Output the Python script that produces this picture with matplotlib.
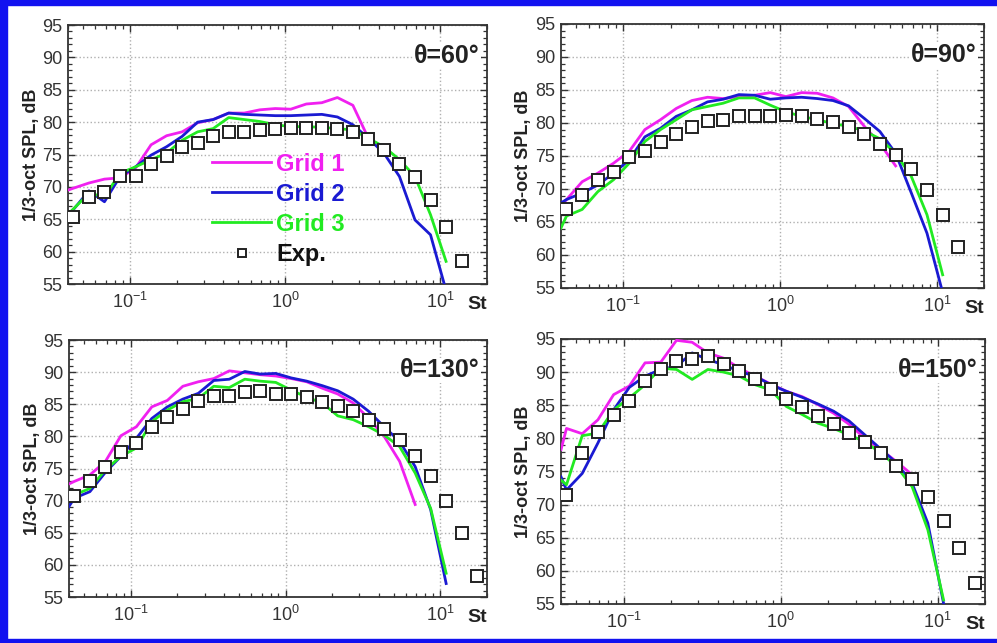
import matplotlib
matplotlib.use("Agg")
import matplotlib.pyplot as plt
from matplotlib.patches import Rectangle
from matplotlib.ticker import LogLocator, MultipleLocator, NullFormatter

plt.rcParams["font.family"] = ["Liberation Sans", "DejaVu Sans"]
plt.rcParams["mathtext.default"] = "regular"

# Strouhal numbers of the 1/3-octave bands
st_bands = [0.04335, 0.05458, 0.06871, 0.08650, 0.1089, 0.1371, 0.1726, 0.2173,
            0.2735, 0.3443, 0.4335, 0.5458, 0.6871, 0.8650, 1.089, 1.371, 1.726,
            2.173, 2.735, 3.443, 4.335, 5.458, 6.871, 8.650, 10.89, 13.71, 17.26]
# simulation spectra start at the low-frequency edge St = 0.04
st_sim = [0.04] + st_bands

angles = ["60", "90", "130", "150"]

grid1 = {
    "60": [69.5, 69.8, 70.6, 71.2, 71.4, 72.9, 76.5, 77.9, 78.5, 79.9, 80.4, 81.4,
           81.4, 81.9, 82.1, 82.0, 82.8, 83.0, 83.8, 82.6, 77.5, 75.5],
    "90": [67.4, 68.4, 71.1, 72.4, 73.9, 75.7, 79.0, 80.5, 82.2, 83.4, 83.9, 83.7,
           84.0, 84.2, 84.6, 84.0, 84.6, 84.5, 83.8, 82.5, 79.5, 76.9, 73.5],
    "130": [72.6, 73.0, 74.0, 76.1, 80.1, 81.5, 84.6, 85.6, 87.8, 88.5, 89.0, 90.2,
            89.9, 89.6, 89.4, 89.0, 88.5, 87.5, 86.6, 85.2, 82.8, 80.0, 76.1, 69.4],
    "150": [78.3, 81.5, 80.7, 82.8, 86.6, 87.9, 91.4, 91.5, 94.8, 94.5, 92.9, 92.1,
            90.6, 89.4, 88.2, 87.1, 86.3, 85.1, 83.8, 82.1, 80.0, 78.3, 76.5, 74.5],
}
grid2 = {
    "60": [65.3, 66.5, 69.4, 67.7, 71.6, 73.1, 74.9, 76.2, 77.8, 80.0, 80.4, 81.4,
           81.2, 81.1, 81.0, 81.0, 81.1, 81.2, 80.8, 79.6, 77.5, 75.2, 71.6, 64.9,
           62.6, 54.0],
    "90": [67.9, 68.4, 69.4, 70.6, 72.4, 74.4, 77.9, 79.2, 81.0, 82.0, 83.2, 83.6,
           84.3, 84.2, 83.6, 83.8, 83.9, 83.7, 83.4, 82.6, 80.7, 78.7, 75.4, 69.4,
           63.3, 54.3],
    "130": [69.1, 70.4, 71.4, 74.4, 76.9, 79.7, 82.8, 84.6, 85.8, 86.7, 88.7, 88.9,
            90.1, 89.7, 89.8, 89.1, 88.6, 87.9, 87.1, 85.8, 83.9, 81.5, 79.2, 75.3,
            68.6, 57.1],
    "150": [74.2, 72.2, 74.7, 79.3, 84.3, 87.7, 89.4, 90.4, 90.9, 92.9, 91.9, 91.1,
            90.1, 89.4, 88.1, 87.1, 86.2, 85.2, 84.1, 82.6, 80.5, 78.4, 76.3, 73.2,
            67.2, 55.1],
}
grid3 = {
    "60": [65.8, 66.6, 69.0, 68.5, 72.1, 73.1, 74.2, 75.2, 77.2, 78.5, 79.0, 80.7,
           80.4, 80.1, 79.6, 79.3, 79.3, 79.2, 79.0, 78.8, 77.5, 76.2, 74.2, 71.6,
           65.7, 58.5],
    "90": [64.1, 65.9, 66.9, 69.6, 71.4, 73.9, 77.2, 79.0, 80.5, 82.0, 82.5, 83.0,
           83.8, 83.8, 82.7, 81.7, 81.0, 80.5, 79.9, 79.5, 78.8, 77.6, 75.4, 71.9,
           66.1, 57.0],
    "130": [69.9, 70.9, 71.9, 74.8, 76.9, 78.2, 82.3, 84.1, 85.4, 85.9, 87.8, 87.6,
            88.9, 88.6, 88.4, 87.2, 86.1, 85.2, 83.2, 82.6, 81.5, 80.2, 78.4, 74.3,
            68.8, 58.7],
    "150": [73.7, 73.0, 80.4, 80.8, 84.3, 86.1, 88.1, 90.6, 90.4, 88.9, 90.4, 90.0,
            89.4, 88.1, 87.3, 84.8, 83.6, 82.3, 81.5, 80.5, 79.5, 77.8, 75.8, 72.7,
            66.2, 55.6],
}
exp_spl = {
    "60": [65.4, 68.5, 69.2, 71.7, 71.7, 73.5, 74.8, 76.1, 76.8, 77.9, 78.4, 78.4,
           78.8, 78.9, 79.15, 79.15, 79.15, 78.9, 78.4, 77.35, 75.7, 73.6, 71.5,
           67.9, 63.8, 58.6],
    "90": [67.0, 69.1, 71.4, 72.6, 74.8, 75.7, 77.05, 78.4, 79.4, 80.3, 80.5, 81.0,
           81.1, 81.0, 81.2, 81.1, 80.6, 80.1, 79.4, 78.3, 76.8, 75.2, 73.0, 69.9,
           66.1, 61.2],
    "130": [70.8, 73.1, 75.2, 77.5, 78.9, 81.4, 83.0, 84.3, 85.5, 86.3, 86.3, 86.9,
            87.1, 86.6, 86.6, 86.1, 85.4, 84.8, 84.0, 82.6, 81.2, 79.5, 77.0, 73.8,
            70.0, 65.0, 58.2],
    "150": [71.4, 77.8, 80.9, 83.6, 85.7, 88.6, 90.5, 91.7, 92.0, 92.4, 91.2, 90.1,
            89.0, 87.4, 86.0, 84.8, 83.4, 82.2, 80.8, 79.4, 77.8, 75.8, 73.9, 71.1,
            67.5, 63.4, 58.1],
}

labels = ["Grid 1", "Grid 2", "Grid 3", "Exp."]
colors = ["#f020f0", "#1a1ad2", "#22ea22"]

# axes rectangles [left, bottom, width, height] in figure fractions
boxes = {
    "60": [0.0682, 0.5583, 0.4203, 0.4028],
    "90": [0.5627, 0.5521, 0.4243, 0.4106],
    "130": [0.0692, 0.0715, 0.4193, 0.3997],
    "150": [0.5627, 0.0607, 0.4253, 0.4121],
}

fig = plt.figure(figsize=(9.97, 6.43), dpi=100)

for ang in angles:
    ax = fig.add_axes(boxes[ang])
    series = [grid1[ang], grid2[ang], grid3[ang]]
    for vals, col, lab in zip(series, colors, labels[:3]):
        ax.plot(st_sim[:len(vals)], vals, color=col, lw=2.0, label=lab,
                solid_joinstyle="round", zorder=3)
    ev = exp_spl[ang]
    ax.plot(st_bands[:len(ev)], ev, ls="none", marker="s", ms=8.0,
            mfc="white", mec="#222222", mew=1.4, color="black",
            label=labels[3], zorder=4)

    ax.set_xscale("log")
    ax.set_xlim(0.04, 20)
    ax.set_ylim(55, 95)
    ax.yaxis.set_major_locator(MultipleLocator(5))
    ax.yaxis.set_minor_locator(MultipleLocator(1))
    ax.xaxis.set_major_locator(LogLocator(base=10, numticks=10))
    ax.xaxis.set_minor_locator(LogLocator(base=10, subs=range(2, 10), numticks=20))
    ax.xaxis.set_minor_formatter(NullFormatter())
    ax.grid(True, which="major", color="#b0b0b0", ls=":", lw=1.0)
    ax.tick_params(which="both", direction="in", top=True, right=True,
                   color="#333333")
    ax.tick_params(which="major", length=5, width=1.0, labelsize=13,
                   labelcolor="#333333")
    ax.tick_params(which="minor", length=3, width=0.9)
    ax.tick_params(axis="x", which="major", pad=6)
    ax.tick_params(axis="y", which="major", pad=4)
    for sp in ax.spines.values():
        sp.set_color("#333333")
        sp.set_linewidth(1.3)

    ax.set_ylabel("1/3-oct SPL, dB", fontsize=13, fontweight="bold",
                  color="#222222")
    ax.yaxis.set_label_coords(-0.068, 0.5)
    ax.annotate("St", xy=(1.0, 0.0), xycoords="axes fraction",
                xytext=(0, -18), textcoords="offset points",
                ha="right", va="baseline", fontsize=14, fontweight="bold",
                color="#222222")
    ax.text(0.983, 0.855, "\u03b8=" + ang + "\u00b0", transform=ax.transAxes,
            ha="right", va="baseline", fontsize=18, fontweight="bold",
            color="#222222", zorder=5,
            bbox=dict(facecolor="white", edgecolor="none", pad=0.5))

    if ang == "60":
        leg = ax.legend(loc="upper left", bbox_to_anchor=(0.316, 0.553),
                        frameon=False, handlelength=2.5,
                        handletextpad=0.2, labelspacing=0.3, borderpad=0.0,
                        markerscale=0.75, prop={"weight": "bold", "size": 17})
        for txt, col in zip(leg.get_texts(), colors + ["#111111"]):
            txt.set_color(col)

# blue frame around the figure (top, left, bottom edges)
blue = "#1212f0"
fig.patches.append(Rectangle((0, 1 - 5 / 643), 1, 5 / 643, transform=fig.transFigure,
                             color=blue, zorder=10))
fig.patches.append(Rectangle((0, 0), 7 / 997, 1, transform=fig.transFigure,
                             color=blue, zorder=10))
fig.patches.append(Rectangle((0, 0), 1, 4 / 643, transform=fig.transFigure,
                             color=blue, zorder=10))

fig.savefig("out.png", dpi=100)
